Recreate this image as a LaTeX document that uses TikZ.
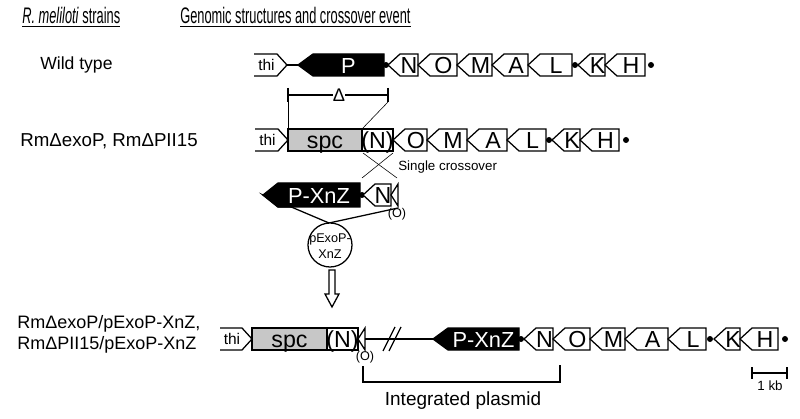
\documentclass[tikz,border=0pt]{standalone}
\usepackage{fontspec}
\setmainfont{Liberation Sans}
\definecolor{spcgray}{gray}{0.78}

\tikzset{
    gene/.style={draw, line width=0.9pt, fill=white},
    blackgene/.style={draw, line width=0.9pt, fill=black},
    genefont/.style={font=\fontsize{16.5}{16}\selectfont, inner sep=0pt, text height=11.8pt, text depth=0pt},
    strainfont/.style={font=\fontsize{13}{15}\selectfont, inner sep=0pt},
    headfont/.style={font=\fontsize{16}{16}\selectfont, inner sep=0pt},
    smallfont/.style={font=\fontsize{9}{11}\selectfont, inner sep=0pt},
}

% left-pointing gene: name, tip x, right x, y, label
\newcommand{\geneL}[5]{%
    \draw[gene] (#2,#4) -- (#2+12,#4-11) -- (#3,#4-11) -- (#3,#4+11) -- (#2+12,#4+11) -- cycle;
    \node[genefont] (#1) at ({(#2+12+#3)/2},#4) {#5};
}
% black gene: name, tip x, right x, y, half height, label
\newcommand{\geneB}[6]{%
    \draw[blackgene] (#2,#4) -- (#2+15,#4-#5) -- (#3,#4-#5) -- (#3,#4+#5) -- (#2+15,#4+#5) -- cycle;
    \node[genefont, font=\fontsize{15.5}{15}\selectfont, text=white] (#1) at ({(#2+15+#3)/2},#4) {#6};
}
% thi fragment: name, left x, tip x, y
\newcommand{\thiR}[4]{%
    \draw[gene] (#2,#4-11) -- (#3-10,#4-11) -- (#3,#4) -- (#3-10,#4+11) -- (#2,#4+11);
    \node[font=\fontsize{11}{11}\selectfont, inner sep=0pt, text height=8pt, text depth=0pt] (#1) at ({(#2+#3-8)/2},#4) {thi};
}

\begin{document}
\begin{tikzpicture}[x=0.025cm, y=-0.025cm]
    \useasboundingbox (0,0) rectangle (800,419);

    % Headings
    \node[headfont, anchor=west] (strains) at (22,17) {\scalebox{0.57}[1]{\underline{\textit{R. meliloti} strains}}};
    \node[headfont, anchor=west] (genomic) at (180,17) {\scalebox{0.57}[1]{\underline{Genomic structures and crossover event}}};

    % Wild type
    \node[strainfont, font=\fontsize{12.5}{15}\selectfont, anchor=west] (wt) at (40,65) {Wild type};
    \thiR{thiA}{254}{287}{65}
    \draw[line width=0.9pt] (287,65) -- (298,65);
    \geneB{pA}{298}{384}{65}{11}{P}
    \fill (386,65) circle (3);
    \geneL{nA}{388}{418}{65}{N}
    \geneL{oA}{418}{457}{65}{O}
    \geneL{mA}{457}{492}{65}{M}
    \geneL{aA}{492}{528}{65}{A}
    \geneL{lA}{528}{572}{65}{L}
    \fill (575,65) circle (3);
    \geneL{kA}{578}{605}{65}{K}
    \geneL{hA}{605}{645}{65}{H}
    \fill (651,65) circle (3);

    % Deletion
    \node[strainfont] (delta) at (339,95) {Δ};
    \draw[line width=0.9pt] (288,88) -- (288,102);
    \draw[line width=0.9pt] (388,88) -- (388,102);
    \draw[line width=0.9pt] (288,95) -- (delta.west);
    \draw[line width=0.9pt] (delta.east) -- (388,95);
    \draw[thin] (288,102) -- (288,129);
    \draw[thin] (388,102) -- (362,129);

    % Deletion mutants
    \node[strainfont, font=\fontsize{13.3}{15}\selectfont, anchor=west] (rm) at (20,141) {RmΔexoP, RmΔPII15};
    \thiR{thiB}{255}{288}{140}
    \draw[gene, fill=spcgray] (288,129) rectangle (362,151);
    \node[genefont] (spcB) at (325,140) {spc};
    \draw[gene] (362,129) rectangle (393,151);
    \node[genefont] (nB) at (377.5,140) {(N)};
    \geneL{oB}{393}{427}{140}{O}
    \geneL{mB}{427}{467}{140}{M}
    \geneL{aB}{467}{507}{140}{A}
    \geneL{lB}{507}{546}{140}{L}
    \fill (549,140) circle (3);
    \geneL{kB}{552}{580}{140}{K}
    \geneL{hB}{580}{619}{140}{H}
    \fill (626,140) circle (3);

    % Crossover
    \draw[thin] (363,153) -- (397,178);
    \draw[thin] (393,153) -- (362,178);
    \node[font=\fontsize{9.5}{10}\selectfont, inner sep=0pt, anchor=west] (cross) at (398,167) {Single crossover};

    % Plasmid
    \draw[line width=0.9pt] (263,195) -- (329,223) -- (398,208);
    \draw[gene] (330,245) circle (22);
    \node[smallfont, align=center] (pexo) at (330,246) {pExoP-\\XnZ};
    \draw[gene] (263,195) -- (278,207) -- (291,207) -- cycle;
    \geneB{pC}{263}{360}{195}{12}{P-XnZ}
    \fill (362,195) circle (3);
    \geneL{nC}{363}{391}{195}{N}
    \draw[gene] (391,195) -- (398,184) -- (398,206) -- cycle;
    \node[smallfont] (oC) at (397,214) {(O)};

    % Arrow
    \draw[gene] (329,270) -- (335,270) -- (335,294) -- (339,294) -- (332,307) -- (325,294) -- (329,294) -- cycle;

    % Integrated strains
    \node[strainfont, font=\fontsize{12.8}{15}\selectfont, anchor=west, align=left] (rmint) at (17,334) {RmΔexoP/pExoP-XnZ,\\RmΔPII15/pExoP-XnZ};
    \thiR{thiD}{220}{252}{339}
    \draw[gene, fill=spcgray] (252,328) rectangle (327,350);
    \node[genefont] (spcD) at (289.5,339) {spc};
    \draw[gene] (327,328) rectangle (358,350);
    \node[genefont] (nD) at (342.5,339) {(N)};
    \draw[gene] (358,339) -- (365,328) -- (365,350) -- cycle;
    \draw[line width=2pt] (365,339) -- (423,339);
    \draw[line width=0.9pt] (423,339) -- (433,339);
    \draw[line width=0.9pt] (383,351) -- (395,327);
    \draw[line width=0.9pt] (389,351) -- (401,327);
    \geneB{pD}{433}{519}{339}{11}{P-XnZ}
    \fill (521,339) circle (3);
    \geneL{nD2}{524}{553}{339}{N}
    \geneL{oD}{553}{590}{339}{O}
    \geneL{mD}{590}{625}{339}{M}
    \geneL{aD}{625}{668}{339}{A}
    \geneL{lD}{668}{706}{339}{L}
    \fill (710,339) circle (3);
    \geneL{kD}{714}{740}{339}{K}
    \geneL{hD}{740}{778}{339}{H}
    \fill (785,339) circle (3);

    % Integrated plasmid
    \node[smallfont] (oD) at (365,357) {(O)};
    \draw[line width=0.9pt] (363,366) -- (363,382) -- (560,382) -- (560,365);
    \node[font=\fontsize{13.5}{14}\selectfont, inner sep=0pt] (intp) at (463,401) {Integrated plasmid};

    % Scale bar
    \draw[line width=0.9pt] (752,367) -- (752,379);
    \draw[line width=0.9pt] (787,367) -- (787,379);
    \draw[line width=0.9pt] (752,373) -- (787,373);
    \node[font=\fontsize{9.5}{10}\selectfont, inner sep=0pt] (kb) at (770,386) {1 kb};
\end{tikzpicture}
\end{document}
